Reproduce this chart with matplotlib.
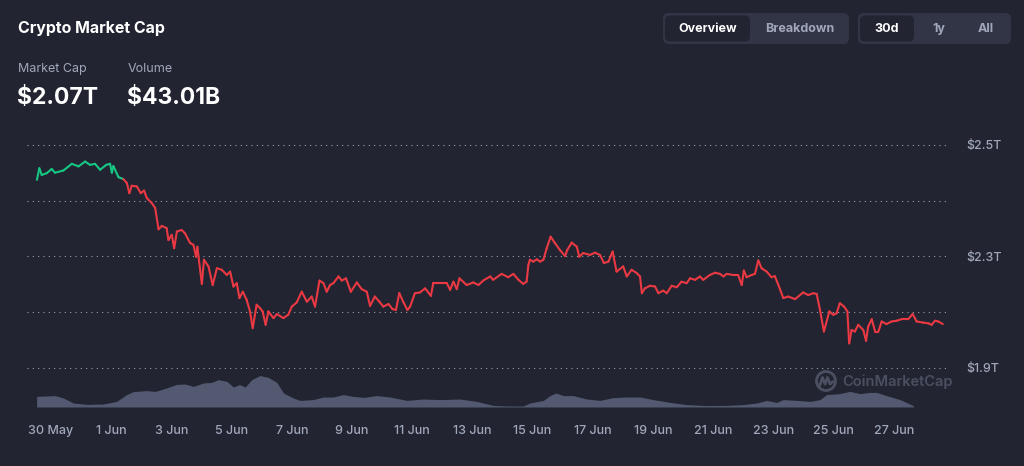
import numpy as np
import matplotlib
matplotlib.use("Agg")
import matplotlib.pyplot as plt
from matplotlib.collections import LineCollection
from matplotlib.patches import FancyBboxPatch, Circle

plt.rcParams['font.family'] = ['Inter', 'DejaVu Sans']

# market cap (trillions USD), x = days since 30 May 00:00
day = [-0.47, -0.39, -0.31, -0.14, 0.02, 0.13, 0.41, 0.69, 0.91, 1.13, 1.30, 1.46, 1.63, 1.83, 1.96,
       2.02, 2.07, 2.24, 2.40, 2.52, 2.60, 2.68, 2.85, 2.98, 3.09, 3.18, 3.35, 3.46, 3.57, 3.68,
       3.84, 3.90, 4.01, 4.09, 4.18, 4.34, 4.45, 4.62, 4.73, 4.82, 4.86, 5.01, 5.08, 5.23, 5.37,
       5.51, 5.67, 5.84, 5.95, 6.06, 6.17, 6.26, 6.37, 6.50, 6.61, 6.70, 6.83, 6.94, 7.03, 7.13,
       7.22, 7.39, 7.50, 7.72, 7.88, 8.00, 8.16, 8.33, 8.50, 8.66, 8.77, 8.92, 9.05, 9.16, 9.27,
       9.38, 9.55, 9.66, 9.80, 9.96, 10.16, 10.32, 10.49, 10.60, 10.76, 10.91, 11.04, 11.21, 11.35,
       11.46, 11.57, 11.70, 11.84, 11.93, 12.09, 12.26, 12.43, 12.62, 12.70, 12.92, 13.15, 13.26,
       13.37, 13.48, 13.57, 13.81, 14.03, 14.20, 14.36, 14.59, 14.69, 14.97, 15.19, 15.36, 15.53,
       15.69, 15.80, 15.86, 15.91, 16.02, 16.14, 16.25, 16.36, 16.47, 16.60, 16.74, 16.91, 17.08,
       17.15, 17.30, 17.47, 17.55, 17.68, 17.91, 18.07, 18.24, 18.37, 18.52, 18.66, 18.79, 19.01,
       19.13, 19.29, 19.46, 19.57, 19.63, 19.73, 19.90, 20.07, 20.18, 20.34, 20.46, 20.62, 20.79,
       20.95, 21.12, 21.23, 21.40, 21.56, 21.67, 21.89, 22.06, 22.23, 22.34, 22.45, 22.67, 22.83,
       22.95, 23.02, 23.11, 23.28, 23.39, 23.50, 23.61, 23.78, 23.94, 24.05, 24.22, 24.33, 24.50,
       24.72, 24.99, 25.16, 25.33, 25.44, 25.55, 25.68, 25.86, 25.99, 26.10, 26.21, 26.35, 26.46,
       26.52, 26.60, 26.71, 26.82, 26.99, 27.08, 27.15, 27.27, 27.38, 27.49, 27.60, 27.76, 27.93,
       28.10, 28.26, 28.48, 28.63, 28.76, 28.98, 29.15, 29.26, 29.37, 29.48, 29.63]
mcap = [2.406, 2.437, 2.419, 2.424, 2.435, 2.425, 2.431, 2.449, 2.442, 2.455, 2.446, 2.449, 2.433, 2.446, 2.449,
        2.425, 2.443, 2.413, 2.408, 2.397, 2.370, 2.390, 2.388, 2.370, 2.377, 2.357, 2.343, 2.330, 2.273, 2.282,
        2.276, 2.244, 2.258, 2.222, 2.267, 2.271, 2.262, 2.236, 2.231, 2.199, 2.226, 2.126, 2.191, 2.173, 2.123,
        2.168, 2.164, 2.150, 2.159, 2.119, 2.128, 2.088, 2.105, 2.083, 2.052, 2.007, 2.070, 2.061, 2.052, 2.016,
        2.052, 2.034, 2.045, 2.034, 2.043, 2.065, 2.076, 2.105, 2.078, 2.092, 2.065, 2.135, 2.128, 2.105, 2.123,
        2.128, 2.146, 2.135, 2.141, 2.105, 2.130, 2.112, 2.105, 2.067, 2.092, 2.078, 2.065, 2.072, 2.058,
        2.056, 2.101, 2.078, 2.056, 2.065, 2.101, 2.103, 2.114, 2.094, 2.128, 2.128, 2.128, 2.110,
        2.132, 2.112, 2.141, 2.123, 2.130, 2.123, 2.135, 2.146, 2.137, 2.153, 2.144, 2.153, 2.137,
        2.126, 2.132, 2.177, 2.191, 2.186, 2.192, 2.186, 2.191, 2.222, 2.253, 2.236, 2.217, 2.201,
        2.217, 2.237, 2.226, 2.199, 2.209, 2.204, 2.210, 2.204, 2.182, 2.186, 2.213, 2.159, 2.173,
        2.146, 2.164, 2.155, 2.146, 2.101, 2.114, 2.121, 2.119, 2.101, 2.108, 2.101, 2.121, 2.117,
        2.132, 2.128, 2.141, 2.137, 2.146, 2.137, 2.150, 2.156, 2.153, 2.146, 2.153, 2.150, 2.150,
        2.123, 2.162, 2.144, 2.150, 2.153, 2.189, 2.168, 2.159, 2.144, 2.147, 2.112, 2.088, 2.092,
        2.085, 2.103, 2.096, 2.101, 2.099, 2.056, 1.998, 2.052, 2.043, 2.047, 2.074, 2.065, 2.052,
        1.966, 2.002, 1.998, 2.016, 2.002, 1.973, 2.011, 2.031, 1.998, 1.998, 2.025, 2.018, 2.025,
        2.027, 2.031, 2.031, 2.045, 2.025, 2.022, 2.020, 2.016, 2.027, 2.025, 2.018]

# volume (billions USD)
vol_day = [-0.48, 0.13, 0.41, 0.74, 1.19, 1.74, 2.18, 2.51, 2.73, 3.18, 3.46, 3.73, 4.18, 4.45, 4.73,
           5.06, 5.34, 5.56, 5.84, 6.06, 6.26, 6.45, 6.67, 6.94, 7.22, 7.50, 7.72, 8.05, 8.27, 8.71,
           9.05, 9.38, 9.71, 10.04, 10.38, 10.82, 11.26, 11.82, 12.37, 12.92, 13.59, 14.14, 14.69,
           15.14, 15.69, 15.91, 16.36, 16.58, 16.78, 17.02, 17.35, 17.80, 18.24, 18.68, 19.13, 19.57,
           20.01, 20.56, 21.12, 21.78, 22.45, 23.00, 23.45, 23.78, 24.11, 24.33, 24.77, 25.22, 25.55,
           25.77, 26.21, 26.54, 26.88, 27.21, 27.43, 27.76, 28.21, 28.65]
volume = [53, 57, 45, 20, 13, 15, 28, 62, 77, 82, 78, 90, 113, 115, 103,
          120, 123, 137, 128, 100, 112, 100, 137, 157, 148, 123, 70, 45, 33, 37,
          50, 50, 62, 53, 48, 57, 50, 33, 40, 37, 40, 28, 8,
          5, 5, 20, 33, 57, 70, 57, 57, 40, 33, 47, 50, 50,
          37, 23, 12, 7, 8, 12, 20, 33, 23, 37, 33, 28, 37,
          62, 67, 78, 67, 73, 73, 57, 37, 7]

xtick_pos = [0, 2, 4, 6, 8, 10, 12, 14, 16, 18, 20, 22, 24, 26, 28]
xtick_labels = ['30 May', '1 Jun', '3 Jun', '5 Jun', '7 Jun', '9 Jun', '11 Jun', '13 Jun',
                '15 Jun', '17 Jun', '19 Jun', '21 Jun', '23 Jun', '25 Jun', '27 Jun']
ytick_pos = [2.5, 2.35, 2.2, 2.05, 1.9]
ytick_labels = ['$2.5T', '', '$2.3T', '', '$1.9T']

BG = '#222531'
GREEN = '#16c784'
RED = '#ea3943'
GREY = '#a1a7bb'

fig = plt.figure(figsize=(10.24, 4.66), dpi=100, facecolor=BG)

# header / overlay in pixel coords
bg = fig.add_axes([0, 0, 1, 1])
bg.set_xlim(0, 1024)
bg.set_ylim(466, 0)
bg.axis('off')
bg.set_zorder(0)

bg.text(18, 29, 'Crypto Market Cap', color='white', fontsize=11.5, fontweight='bold', va='center')
bg.text(18, 69, 'Market Cap', color=GREY, fontsize=9, va='center')
bg.text(128, 69, 'Volume', color=GREY, fontsize=9, va='center')
bg.text(17, 98, '$2.07T', color='white', fontsize=16.5, fontweight='bold', va='center')
bg.text(127, 98, '$43.01B', color='white', fontsize=16.5, fontweight='bold', va='center')

def button_group(x0, x1, sel_x0, sel_x1, labels, centers):
    bg.add_patch(FancyBboxPatch((x0, 13), x1 - x0, 31, boxstyle='round,pad=0,rounding_size=6',
                                fc='#323546', ec='none'))
    bg.add_patch(FancyBboxPatch((sel_x0, 15.5), sel_x1 - sel_x0, 26, boxstyle='round,pad=0,rounding_size=5',
                                fc=BG, ec='none'))
    for i, (lab, cx) in enumerate(zip(labels, centers)):
        bg.text(cx, 29, lab, color='white' if i == 0 else GREY, fontsize=9, fontweight='bold',
                ha='center', va='center')

button_group(663, 849, 665, 750, ['Overview', 'Breakdown'], [708, 800])
button_group(858, 1011, 860, 914, ['30d', '1y', 'All'], [887, 939, 986])

# watermark
bg.add_patch(Circle((826, 381), 9.5, fill=False, ec='#4a4f61', lw=2))
bg.plot([819.5, 822.5, 825, 827.5, 830, 833], [386, 377.5, 384, 377.5, 384, 381.5],
        color='#4a4f61', lw=2, solid_capstyle='round', solid_joinstyle='round')
bg.text(842, 381.5, 'CoinMarketCap', color='#4a4f61', fontsize=10.5, fontweight='semibold', va='center')

# main chart
left, right, top, bottom = 27, 950, 140, 407
ax = fig.add_axes([left / 1024, 1 - bottom / 466, (right - left) / 1024, (bottom - top) / 466])
ax.set_zorder(3)
ax.patch.set_visible(False)

day = np.array(day)
mcap = np.array(mcap)
pts = np.column_stack([day, mcap])
segs = np.stack([pts[:-1], pts[1:]], axis=1)
up = (mcap[:-1] >= mcap[0]) & (mcap[1:] >= mcap[0])
colors = np.where(up, GREEN, RED)
lc = LineCollection(segs, colors=colors, linewidths=1.5, capstyle='round', joinstyle='round')
ax.add_collection(lc)

ax.set_xlim(-0.8, 29.87)
ax.set_ylim(1.795, 2.513)
ax.set_yticks(ytick_pos)
ax.set_yticklabels(ytick_labels, fontweight='medium')
ax.yaxis.tick_right()
ax.set_xticks(xtick_pos)
ax.set_xticklabels(xtick_labels, fontweight='medium')
ax.tick_params(axis='y', length=0, pad=12, labelsize=9, labelcolor=GREY)
ax.tick_params(axis='x', length=0, pad=13, labelsize=9, labelcolor=GREY)
ax.grid(axis='y', color='#9a9eac', linestyle=(0, (1, 3.8)), linewidth=0.8)
ax.grid(axis='x', visible=False)
for s in ax.spines.values():
    s.set_visible(False)

# volume underneath
axv = fig.add_axes(ax.get_position())
axv.set_zorder(1)
axv.patch.set_visible(False)
axv.fill_between(vol_day, 0, volume, color='#535970', lw=0)
axv.set_xlim(-0.8, 29.87)
axv.set_ylim(0, 1335)
axv.axis('off')

fig.savefig('out.png', dpi=100, facecolor=BG)
